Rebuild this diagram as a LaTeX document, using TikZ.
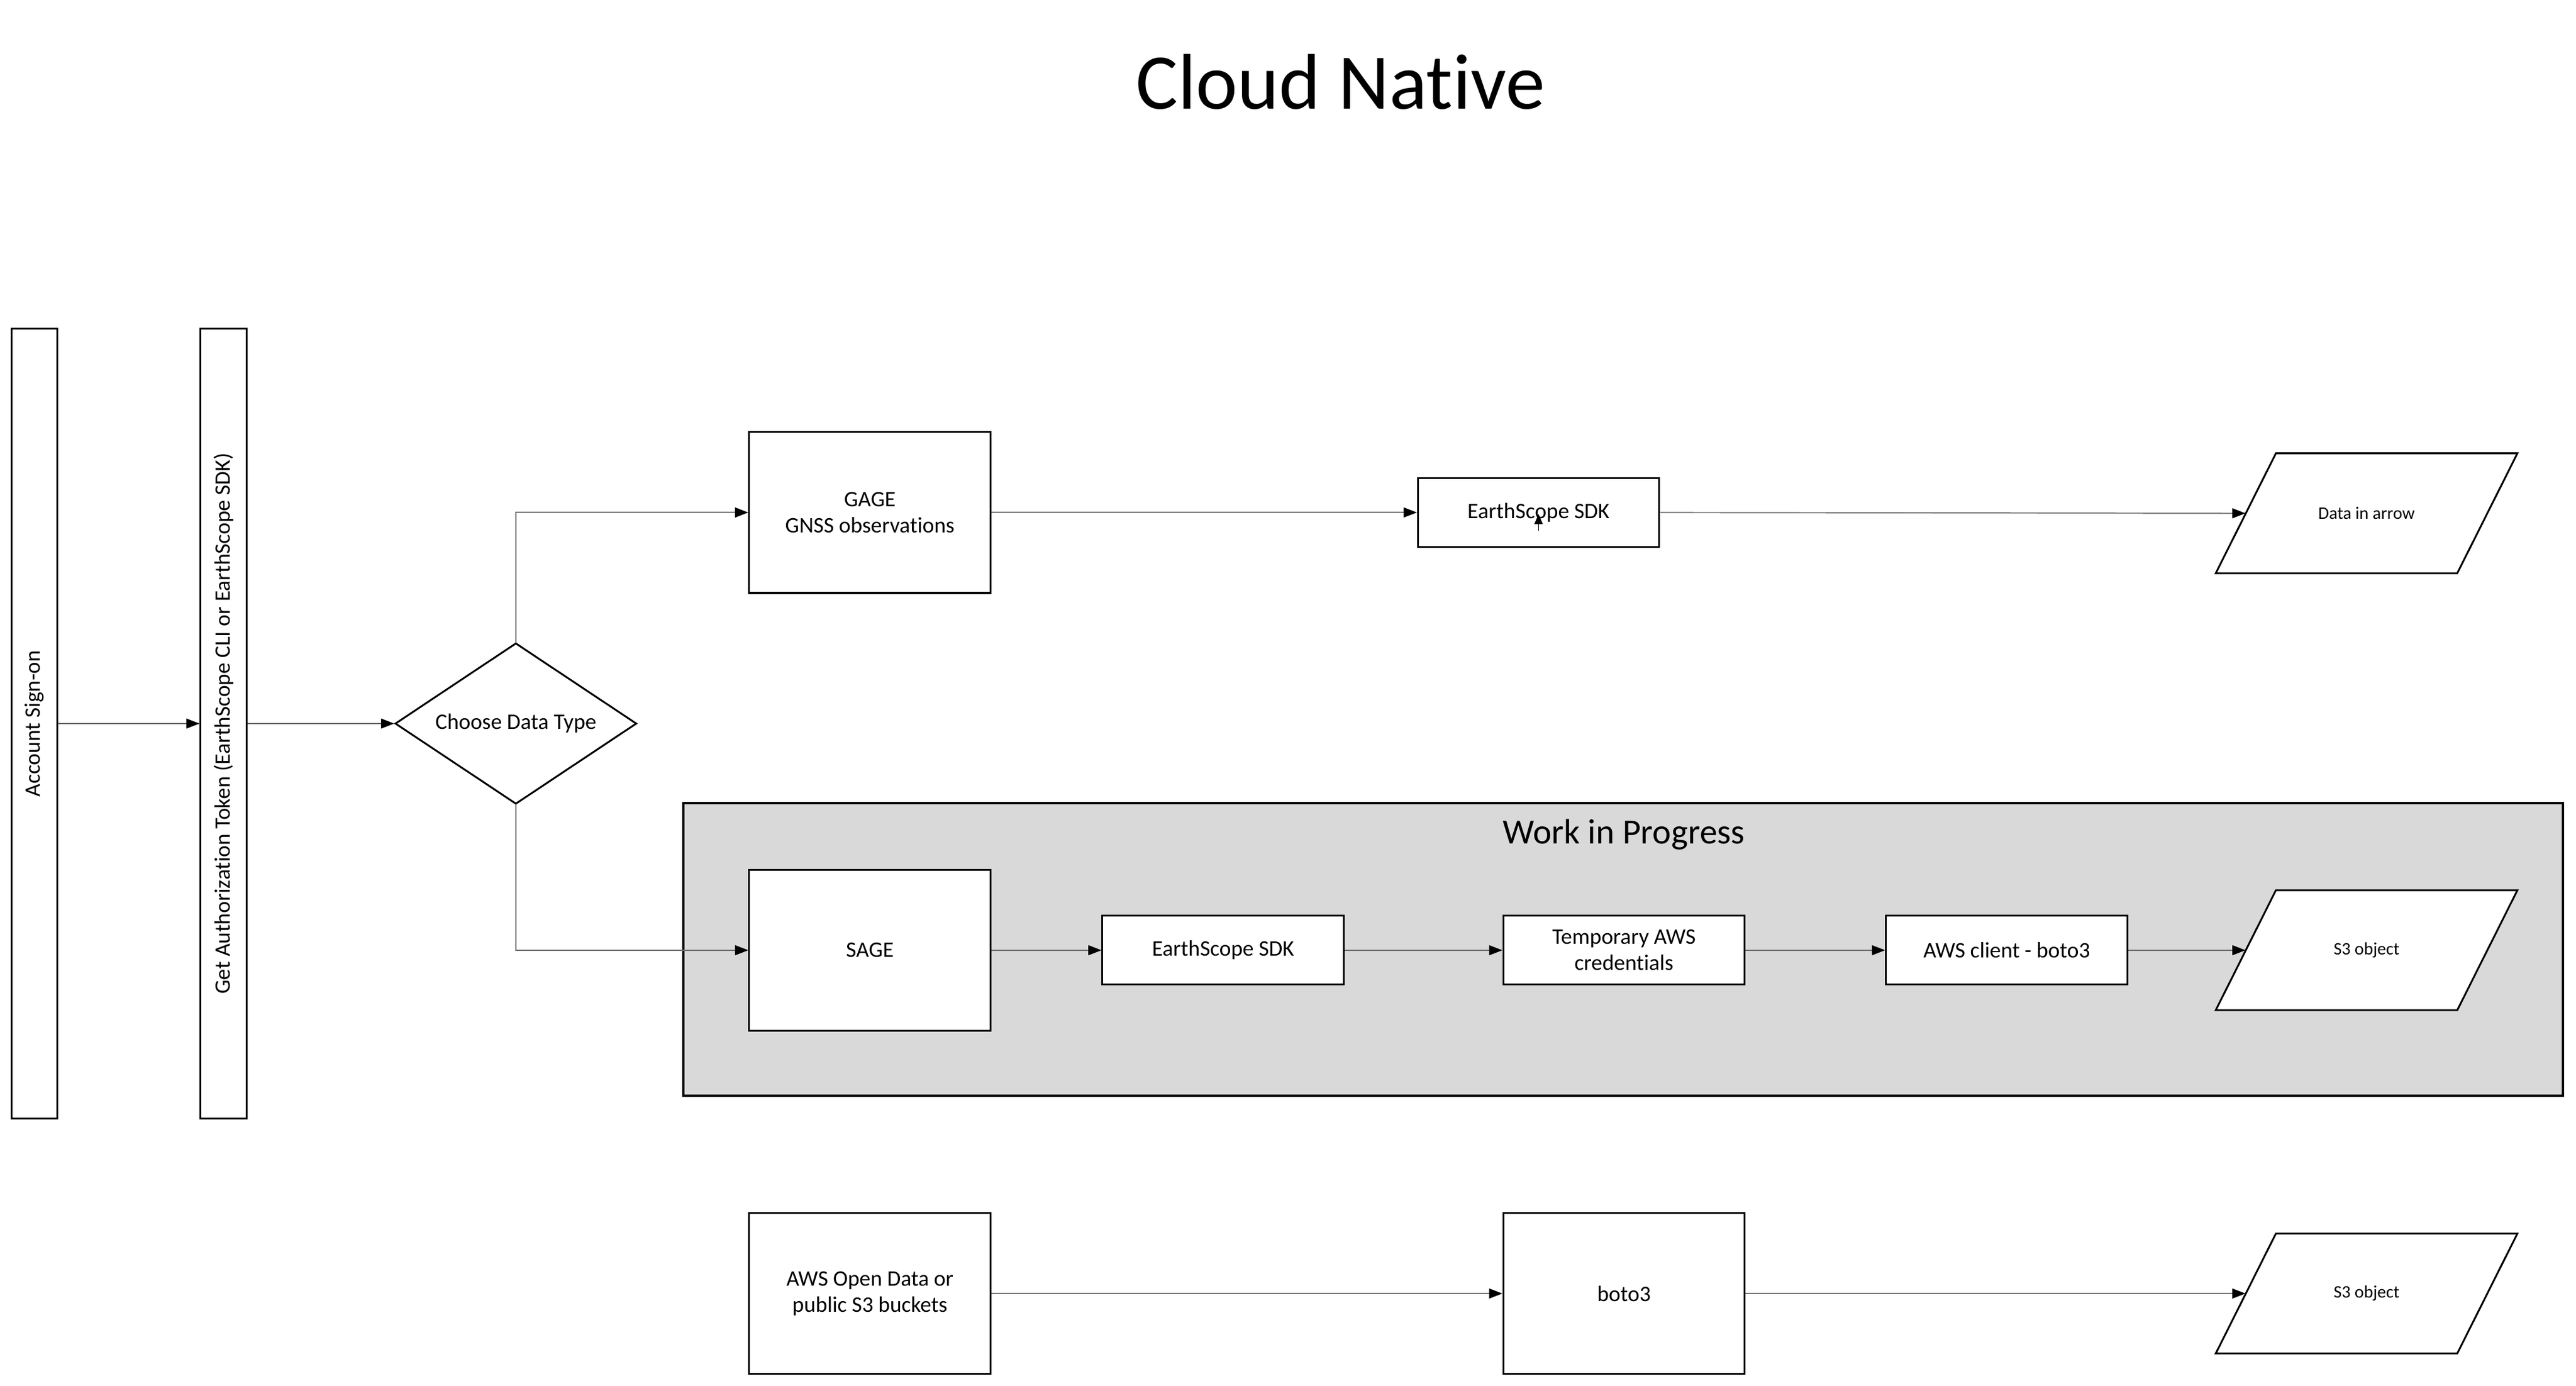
\documentclass[tikz,border=0pt]{standalone}
\usepackage{fontspec}
\setmainfont{Carlito}[Ligatures={NoCommon}]
\usetikzlibrary{arrows.meta,shapes.geometric,calc}
\definecolor{wipgray}{HTML}{D9D9D9}
\definecolor{linegray}{HTML}{6E6E6E}
\begin{document}
\begin{tikzpicture}[x=1pt,y=-1pt,
  txt/.style={font=\fontsize{13.5}{16}\selectfont},
  small/.style={font=\fontsize{10.7}{13}\selectfont},
  box/.style={draw=black, line width=1.1pt, fill=white, minimum width=147pt, minimum height=98pt, inner sep=0pt, align=center, txt},
  sbox/.style={box, minimum height=42pt},
  vbox/.style={draw=black, line width=1.1pt, fill=white, minimum width=481pt, minimum height=28pt, inner sep=0pt, rotate=90, txt},
  dia/.style={diamond, draw=black, line width=1.1pt, fill=white, minimum width=147pt, minimum height=98pt, shape aspect=1.5, inner sep=0pt, txt},
  paraslot/.style={minimum width=147pt, minimum height=73pt, inner sep=0pt, small},
  parashape/.style={draw=black, line width=1.1pt, fill=white, line join=miter},
  wipbox/.style={draw=black, line width=1.6pt, fill=wipgray, minimum width=1144pt, minimum height=178pt, inner sep=0pt},
  conn/.style={draw=linegray, line width=0.7pt, -{Triangle[length=8pt,width=6pt,black]}},
  tiny/.style={draw=black, line width=0.4pt, -{Triangle[length=6pt,width=5pt,black]}}
]
\useasboundingbox (0,0) rectangle (1568,843.8);
\fill[white] (0,0) rectangle (1568,843.8);

% title
\node[font=\fontsize{48}{58}\selectfont] (title) at (816,50) {Cloud Native};

% left column
\node[vbox] (acct) at (21,440.5) {Account Sign-on};
\node[vbox] (auth) at (136,440.5) {Get Authorization Token (EarthScope CLI or EarthScope SDK)};
\node[dia] (choose) at (314,440.5) {Choose Data Type};

% GAGE row
\node[box] (gage) at (529.5,312) {GAGE\\GNSS observations};
\node[sbox] (sdka) at (936.5,312) {EarthScope SDK};
\coordinate (dac) at (1440.5,312.5);
\draw[parashape] ($(dac)+(-55.2,-36.5)$) -- ($(dac)+(91.8,-36.5)$) -- ($(dac)+(55.2,36.5)$) -- ($(dac)+(-91.8,36.5)$) -- cycle;
\node[paraslot] (dataarrow) at (dac) {Data in arrow};

% work in progress
\node[wipbox] (wip) at (988,578) {};
\node[font=\fontsize{21.5}{26}\selectfont] (wiptitle) at (988.5,508) {Work in Progress};
\node[box] (sage) at (529.5,578.5) {SAGE};
\node[sbox] (sdkb) at (744.5,578.5) {EarthScope SDK};
\node[sbox] (temp) at (988.5,578.5) {Temporary AWS\\credentials};
\node[sbox] (client) at (1221.5,578.5) {AWS client - boto3};
\coordinate (s3ac) at (1440.5,578.5);
\draw[parashape] ($(s3ac)+(-55.2,-36.5)$) -- ($(s3ac)+(91.8,-36.5)$) -- ($(s3ac)+(55.2,36.5)$) -- ($(s3ac)+(-91.8,36.5)$) -- cycle;
\node[paraslot] (s3a) at (s3ac) {S3 object};

% bottom row
\node[box] (open) at (529.5,787.5) {AWS Open Data or\\public S3 buckets};
\node[box] (boto) at (988.5,787.5) {boto3};
\coordinate (s3bc) at (1440.5,787.5);
\draw[parashape] ($(s3bc)+(-55.2,-36.5)$) -- ($(s3bc)+(91.8,-36.5)$) -- ($(s3bc)+(55.2,36.5)$) -- ($(s3bc)+(-91.8,36.5)$) -- cycle;
\node[paraslot] (s3b) at (s3bc) {S3 object};

% connectors
\draw[conn] (acct.south) -- (auth.north);
\draw[conn] (auth.south) -- (choose.west);
\draw[conn] (choose.north) |- (gage.west);
\draw[conn] (choose.south) |- (sage.west);
\draw[conn] (gage.east) -- (sdka.west);
\draw[conn] (sdka.east) -- (dataarrow.west);
\draw[tiny] ([yshift=-11pt]sdka.center) -- ([yshift=-1pt]sdka.center);
\draw[conn] (sage.east) -- (sdkb.west);
\draw[conn] (sdkb.east) -- (temp.west);
\draw[conn] (temp.east) -- (client.west);
\draw[conn] (client.east) -- (s3a.west);
\draw[conn] (open.east) -- (boto.west);
\draw[conn] (boto.east) -- (s3b.west);
\end{tikzpicture}
\end{document}
